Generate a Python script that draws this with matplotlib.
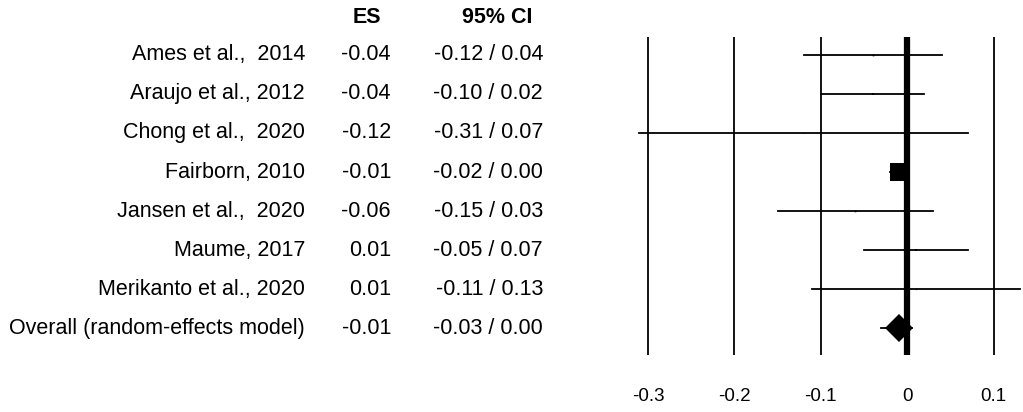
import matplotlib
matplotlib.use('Agg')
import matplotlib.pyplot as plt
from matplotlib import transforms

plt.rcParams['font.family'] = ['Liberation Sans', 'DejaVu Sans']

studies = ['Ames et al.,  2014', 'Araujo et al., 2012', 'Chong et al.,  2020',
           'Fairborn, 2010', 'Jansen et al.,  2020', 'Maume, 2017',
           'Merikanto et al., 2020']
es = [-0.04, -0.04, -0.12, -0.01, -0.06, 0.01, 0.01]
ci_lo = [-0.12, -0.10, -0.31, -0.02, -0.15, -0.05, -0.11]
ci_hi = [0.04, 0.02, 0.07, 0.00, 0.03, 0.07, 0.13]
# approximate study weights (%)
weights = [0.8, 2.5, 0.2, 93.0, 0.7, 2.0, 0.4]

overall_label = 'Overall (random-effects model)'
overall_es = -0.01
overall_lo = -0.03
overall_hi = 0.00

ticks = [-0.3, -0.2, -0.1, 0, 0.1]
tick_labels = ['-0.3', '-0.2', '-0.1', '0', '0.1']

W, H = 1023, 412
fig = plt.figure(figsize=(W / 100, H / 100), dpi=100)
ax = fig.add_axes([620 / W, 1 - 355 / H, 403 / W, (355 - 37) / H])

n = len(studies)
rows = list(range(n))
px_per_pt = 100 / 72

# grid and zero line
ax.set_xticks(ticks)
ax.set_xticklabels(tick_labels)
ax.grid(axis='x', color='black', linewidth=1.3)
ax.axvline(0, color='black', linewidth=4.5, zorder=3)

# study CIs and squares
max_w = max(weights)
for i in rows:
    ax.plot([ci_lo[i], ci_hi[i]], [i, i], color='black', linewidth=1.3, zorder=2)
    side_px = 18 * (weights[i] / max_w) ** 0.5
    ax.plot(es[i], i, marker='s', color='black', markeredgewidth=0,
            markersize=side_px / px_per_pt, zorder=4)

# overall estimate
ax.plot([overall_lo, overall_hi + 0.005], [n, n], color='black', linewidth=1.3, zorder=2)
ax.plot(overall_es, n, marker='D', color='black', markeredgewidth=0,
        markersize=27 / 1.414 / px_per_pt, zorder=4)

ax.set_xlim((620 - 907.2) / 864, (1023 - 907.2) / 864)
ax.set_ylim(7.69, -0.46)
ax.set_yticks([])
for s in ax.spines.values():
    s.set_visible(False)
ax.tick_params(axis='x', length=0, pad=24, labelsize=13.5)

# text columns
tr = transforms.blended_transform_factory(fig.transFigure, ax.transData)
fs = 15.5
labels = studies + [overall_label]
es_all = es + [overall_es]
lo_all = ci_lo + [overall_lo]
hi_all = ci_hi + [overall_hi]
for i, lab in enumerate(labels):
    ax.text(305 / W, i, lab, transform=tr, ha='right', va='center', fontsize=fs,
            clip_on=False)
    ax.text(391 / W, i, f'{es_all[i]:.2f}', transform=tr, ha='right', va='center',
            fontsize=fs, clip_on=False)
    ax.text(543 / W, i, f'{lo_all[i]:.2f} / {hi_all[i]:.2f}', transform=tr,
            ha='right', va='center', fontsize=fs, clip_on=False)

ax.text(367 / W, -0.97, 'ES', transform=tr, ha='center', va='center', fontsize=fs,
        fontweight='bold', clip_on=False)
ax.text(497 / W, -0.97, '95% CI', transform=tr, ha='center', va='center', fontsize=fs,
        fontweight='bold', clip_on=False)

fig.savefig('out.png', dpi=100)
